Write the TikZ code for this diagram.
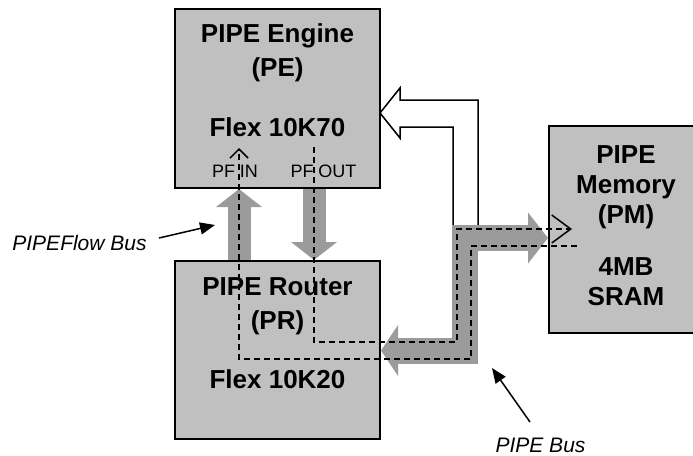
\documentclass[tikz,border=0pt]{standalone}
\usepackage{fontspec}
\setmainfont{Liberation Sans}
\usetikzlibrary{arrows.meta,positioning,calc}

\definecolor{chipgray}{RGB}{192,192,192}
\definecolor{busgray}{RGB}{155,155,155}

\begin{document}
\begin{tikzpicture}[
  x=1pt,y=-1pt,
  chip/.style={draw, line width=2pt, fill=chipgray, inner sep=0pt},
  title/.style={font=\bfseries\fontsize{26}{34}\selectfont, align=center, inner sep=0pt, anchor=north},
  pin/.style={font=\fontsize{18}{20}\selectfont, inner sep=0pt},
  note/.style={font=\itshape\fontsize{21}{24}\selectfont, inner sep=0pt},
  fat/.style={busgray, line width=23pt, -{Triangle[length=18pt,width=45pt]}},
  bus/.style={busgray, line width=26pt},
  flow/.style={line width=1.5pt, dash pattern=on 6pt off 4pt},
  pointer/.style={line width=1.5pt, -{Triangle[length=15pt,width=12pt]}}
]
\useasboundingbox (0,0) rectangle (693,455);
\clip (0,0) rectangle (693,455);
% boxes
\node[chip, minimum width=205pt, minimum height=179pt] (pe) at (277.5,98.5) {};
\node[chip, minimum width=205pt, minimum height=178pt] (pr) at (277.5,350) {};
\node[chip, minimum width=154pt, minimum height=207pt] (pm) at (626,229.5) {};
\coordinate (inx) at (239,0);
\coordinate (outx) at (314,0);
% PIPEFlow bus
\draw[fat] (pr.north -| inx) -- (pe.south -| inx);
\draw[fat] (pe.south -| outx) -- (pr.north -| outx);
% PIPE bus
\draw[line width=1.5pt, fill=white] (380,113) -- (400,88) -- (400,100) -- (478,100) -- (478,240)
  -- (453,240) -- (453,127) -- (400,127) -- (400,138) -- cycle;
\coordinate (busr) at (548,238);
\coordinate (busl) at (381,350.5);
\draw[bus, {Triangle[length=20pt,width=50pt]}-{Triangle[length=17pt,width=50pt]}]
  (busr) -| ($(busr)!0.5!(busl)$) |- (busl);
% data paths
\coordinate (memout) at (577,246);
\coordinate (pfin) at (239,148);
\coordinate (pfout) at (314,147);
\coordinate (memin) at (572,229);
\draw[flow, -{Straight Barb[length=9pt,width=18pt]}] (memout) -| (471,359) -| (pfin);
\draw[flow, -{Straight Barb[length=19pt,width=28pt]}] (pfout) |- (457,342) |- (memin);
% labels
\node[title] (petext) at (277.5,23.3) {PIPE Engine\\(PE)\\[26pt]Flex 10K70};
\node[title] (prtext) at (277.5,277.3) {PIPE Router\\(PR)\\[25pt]Flex 10K20};
\node[title, font=\bfseries\fontsize{26}{30}\selectfont] (pmtext) at (626,145.3) {PIPE\\Memory\\(PM)\\[22pt]4MB\\SRAM};
\node[pin] (pinlbl) at (235,171) {PF IN};
\node[pin] (poutlbl) at (323.5,171) {PF OUT};
\node[note] (flowlbl) at (79.5,243) {PIPEFlow Bus};
\node[note] (buslbl) at (540.5,445) {PIPE Bus};
\coordinate (flowtail) at (159,238);
\coordinate (flowtip) at (215,225);
\coordinate (bustail) at (530,422);
\coordinate (bustip) at (492,368);
\foreach \a/\b in {flowtail/flowtip,bustail/bustip}{\draw[pointer] (\a) -- (\b);}
\end{tikzpicture}
\end{document}
